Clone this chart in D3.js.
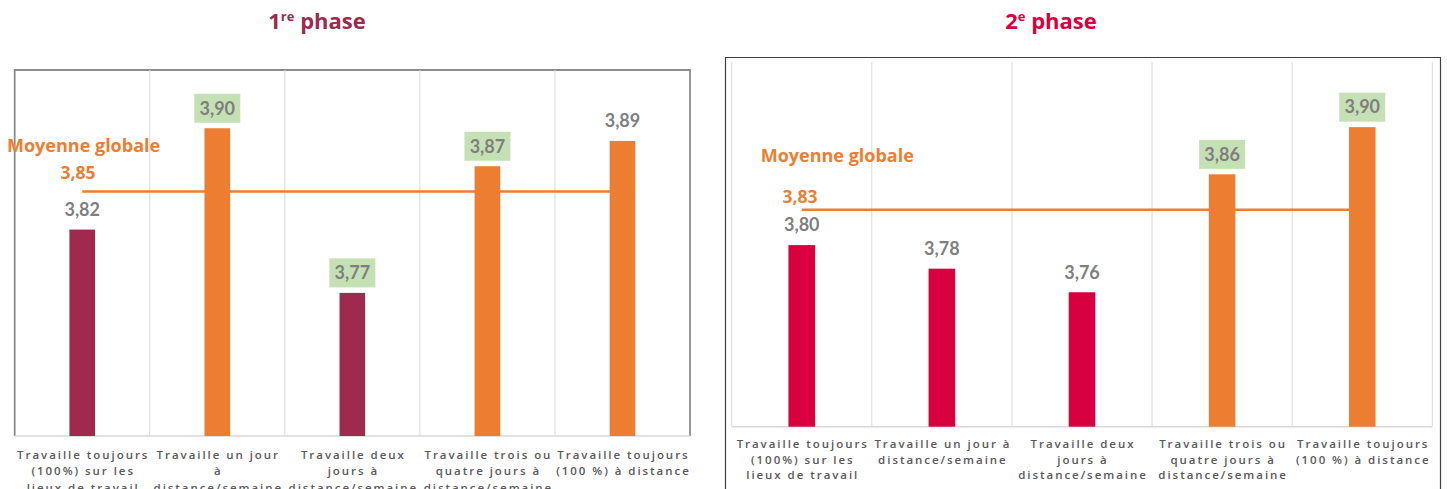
<!DOCTYPE html>
<html>
<head>
<meta charset="utf-8">
<script src="https://cdn.jsdelivr.net/npm/d3@7"></script>
<style>
  html, body { margin: 0; padding: 0; background: #fff; }
  svg { display: block; }
  .cat { font-family: "Open Sans", sans-serif; font-size: 11.5px; font-weight: 600; fill: #595959; letter-spacing: 1.95px; }
  .val { font-family: Lato, sans-serif; font-size: 18px; font-weight: 700; fill: #7f7f7f; }
  .mean { font-family: "Open Sans", sans-serif; font-weight: 700; fill: #ed7d31; }
  .title { font-family: "Open Sans", sans-serif; font-size: 22px; font-weight: 700; }
</style>
</head>
<body>
<svg id="chart" width="1447" height="489"></svg>
<script>
// ---- data ----
const cats1 = [
  ['Travaille toujours', '(100%) sur les', 'lieux de travail'],
  ['Travaille un jour', 'à', 'distance/semaine'],
  ['Travaille deux', 'jours à', 'distance/semaine'],
  ['Travaille trois ou', 'quatre jours à', 'distance/semaine'],
  ['Travaille toujours', '(100 %) à distance']
];
const cats2 = [
  ['Travaille toujours', '(100%) sur les', 'lieux de travail'],
  ['Travaille un jour à', 'distance/semaine'],
  ['Travaille deux', 'jours à', 'distance/semaine'],
  ['Travaille trois ou', 'quatre jours à', 'distance/semaine'],
  ['Travaille toujours', '(100 %) à distance']
];
const values1 = [3.82, 3.90, 3.77, 3.87, 3.89];
const values2 = [3.80, 3.78, 3.76, 3.86, 3.90];
const boxed1 = [false, true, true, true, false];
const boxed2 = [false, false, false, true, true];
const mean1 = 3.85;
const mean2 = 3.83;
const domain1 = [3.657, 3.946];
const domain2 = [3.646, 3.955];

const ORANGE = '#ed7d31';
const fmt = v => d3.format('.2f')(v).replace('.', ',');

const svg = d3.select('#chart');

function drawPhase(opt) {
  const { left, right, top, bottom, cats, values, boxed, mean, domain, color } = opt;
  const g = svg.append('g');
  const x = d3.scaleBand().domain(d3.range(values.length)).range([left, right]).padding(0);
  const y = d3.scaleLinear().domain(domain).range([bottom, top]);
  const bw = x.bandwidth() * 0.19;

  // vertical gridlines (band edges)
  const edges = d3.range(values.length + 1).map(i => left + i * x.bandwidth());
  g.append('g').selectAll('line').data(opt.outerEdges ? edges : edges.slice(1, -1)).join('line')
    .attr('x1', d => d).attr('x2', d => d)
    .attr('y1', top).attr('y2', bottom)
    .attr('stroke', '#d9d9d9').attr('stroke-width', 1);
  g.append('line')
    .attr('x1', left).attr('x2', right).attr('y1', bottom).attr('y2', bottom)
    .attr('stroke', '#d9d9d9').attr('stroke-width', 1.5);

  // mean line, behind bars
  const cx = i => x(i) + x.bandwidth() / 2;
  g.append('line')
    .attr('x1', cx(0)).attr('x2', cx(values.length - 1))
    .attr('y1', y(mean)).attr('y2', y(mean))
    .attr('stroke', ORANGE).attr('stroke-width', 2.5);

  g.append('g').selectAll('rect').data(values).join('rect')
    .attr('x', (d, i) => cx(i) - bw / 2)
    .attr('y', d => y(d))
    .attr('width', bw)
    .attr('height', d => bottom - y(d))
    .attr('fill', d => d > mean ? ORANGE : color);

  // value labels
  const lab = g.append('g').selectAll('g').data(values).join('g')
    .attr('transform', (d, i) => `translate(${cx(i)},${y(d) - 20})`);
  lab.filter((d, i) => boxed[i]).append('rect')
    .attr('x', -23).attr('y', -14.5).attr('width', 46).attr('height', 29)
    .attr('fill', '#c5e0b4');
  lab.append('text').attr('class', 'val')
    .attr('text-anchor', 'middle').attr('dy', '0.35em')
    .text(d => fmt(d));

  // category labels
  const cl = g.append('g').selectAll('text').data(cats).join('text')
    .attr('class', 'cat').attr('text-anchor', 'middle')
    .attr('transform', (d, i) => `translate(${cx(i) + 1},${bottom + opt.catOffset})`);
  cl.selectAll('tspan').data(d => d).join('tspan')
    .attr('x', 0).attr('y', (d, j) => j * opt.catLine)
    .text(d => d);

  // mean annotation
  g.append('text').attr('class', 'mean').attr('font-size', 18)
    .attr('x', opt.meanLabel[0]).attr('y', opt.meanLabel[1])
    .text('Moyenne globale');
  g.append('text').attr('class', 'mean').attr('font-size', 17.5)
    .attr('text-anchor', 'middle')
    .attr('x', opt.meanValue[0]).attr('y', opt.meanValue[1])
    .text(fmt(mean));

  // title
  const t = svg.append('text').attr('class', 'title').attr('fill', color)
    .attr('x', opt.title[0]).attr('y', opt.title[1]).attr('text-anchor', 'middle');
  t.append('tspan').text(opt.titleNum);
  t.append('tspan').attr('font-size', 13).attr('dy', -8).text(opt.titleSup);
  t.append('tspan').attr('dy', 8).text('\u00a0phase');
}

// left frame (top, left, right)
svg.append('path')
  .attr('d', 'M14.7,436 V70 H690 V436')
  .attr('fill', 'none').attr('stroke', '#8c8c8c').attr('stroke-width', 1.8);

// right frame
svg.append('path')
  .attr('d', 'M725.5,489 V57.5 H1440.5 V489')
  .attr('fill', 'none').attr('stroke', '#404040').attr('stroke-width', 1.2);

drawPhase({
  left: 14.7, right: 690, top: 70, bottom: 436,
  cats: cats1, values: values1, boxed: boxed1, mean: mean1, domain: domain1,
  color: '#9e2a4f', outerEdges: false, catOffset: 22.5, catLine: 16.5,
  meanLabel: [7, 152], meanValue: [78, 179],
  title: [317, 29], titleNum: '1', titleSup: 're'
});

drawPhase({
  left: 731.7, right: 1432.3, top: 62.3, bottom: 426.7,
  cats: cats2, values: values2, boxed: boxed2, mean: mean2, domain: domain2,
  color: '#d9003f', outerEdges: true, catOffset: 21.5, catLine: 15.5,
  meanLabel: [760.7, 162], meanValue: [800, 203],
  title: [1051, 29], titleNum: '2', titleSup: 'e'
});
</script>
</body>
</html>
